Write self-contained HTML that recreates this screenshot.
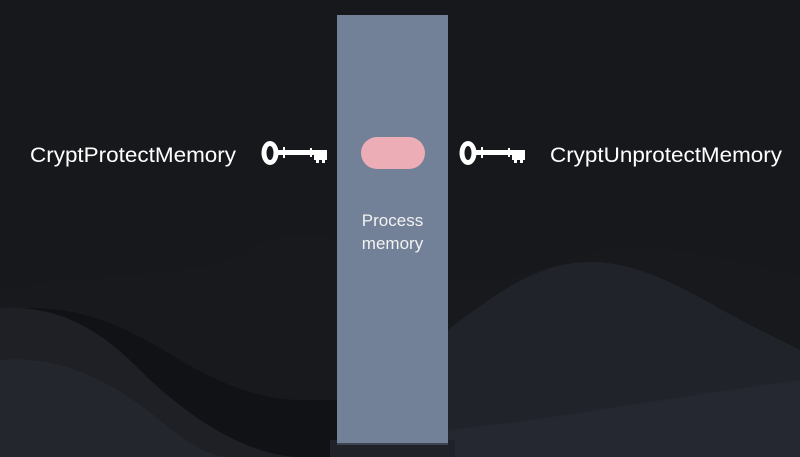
<!DOCTYPE html>
<html><head><meta charset="utf-8"><style>
html,body{margin:0;padding:0;width:800px;height:457px;overflow:hidden;background:#17181c}
svg{display:block}
</style></head><body>
<svg width="800" height="457" viewBox="0 0 800 457" xmlns="http://www.w3.org/2000/svg">
<rect width="800" height="457" fill="#17181c"/>
<path d="M0 290 C100 270 200 280 250 250 C300 220 350 240 420 270 C520 300 560 250 620 248 C700 245 760 270 800 275 L800 457 L0 457Z" fill="#18191d"/>
<path d="M0 310 C80 300 130 330 180 360 C230 390 270 400 300 400 L337 400 L337 457 L0 457Z" fill="#111216"/>
<path d="M0 308 C60 305 100 330 140 370 C200 430 260 457 300 457 L0 457Z" fill="#1e2026"/>
<path d="M0 360 C60 355 110 380 160 420 C190 445 210 457 230 457 L0 457Z" fill="#23262d"/>
<path d="M448 330 C500 290 540 262 590 262 C650 262 700 300 760 330 C780 340 790 345 800 350 L800 457 L448 457Z" fill="#20232a"/>
<path d="M448 430 C550 420 650 400 800 380 L800 457 L448 457Z" fill="#252830"/>
<rect x="330" y="440" width="125" height="17" fill="#1f2228"/>
<rect x="337" y="15" width="111" height="429" fill="#728198"/>
<rect x="337" y="443" width="111" height="2" fill="#3d4450"/>
<rect x="361" y="137" width="64" height="32" rx="16" fill="#ecadb6"/>
<text x="392.5" y="226" font-family="Liberation Sans, sans-serif" font-size="17" fill="#f2f2f2" text-anchor="middle">Process</text>
<text x="392.5" y="249" font-family="Liberation Sans, sans-serif" font-size="17" fill="#f2f2f2" text-anchor="middle">memory</text>
<text x="30" y="162" font-family="Liberation Sans, sans-serif" font-size="21" fill="#ffffff" textLength="206" lengthAdjust="spacingAndGlyphs">CryptProtectMemory</text>
<text x="550" y="162" font-family="Liberation Sans, sans-serif" font-size="21" fill="#ffffff" textLength="232" lengthAdjust="spacingAndGlyphs">CryptUnprotectMemory</text>
<g id="k" fill="#ffffff">
<ellipse cx="270" cy="153" rx="8.5" ry="12"/>
<ellipse cx="270" cy="153" rx="3.5" ry="7" fill="#17181c"/>
<rect x="277" y="150" width="50" height="5"/>
<rect x="283" y="147" width="2" height="11"/>
<rect x="310" y="148" width="2" height="9"/>
<rect x="314" y="150" width="13" height="10"/>
<rect x="316" y="158" width="3" height="5"/>
<rect x="322" y="158" width="3" height="5"/>
</g>
<use href="#k" x="198"/>
</svg>
</body></html>
